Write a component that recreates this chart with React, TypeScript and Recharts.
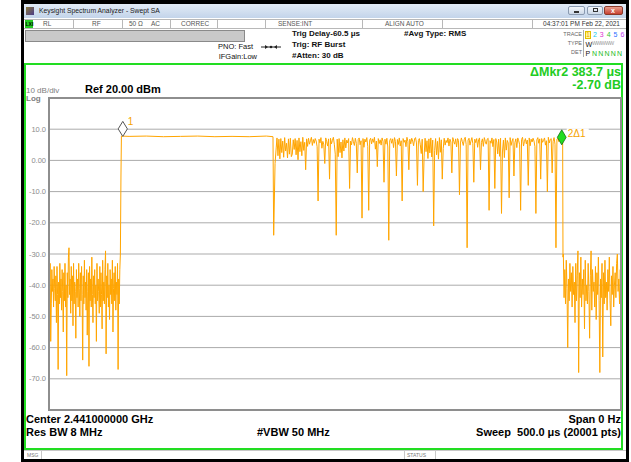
import React from 'react';
import { LineChart, Line, XAxis, YAxis, CartesianGrid, ReferenceDot } from 'recharts';

const FONT = '"Liberation Sans", Arial, Helvetica, sans-serif';

// ---- Data (time in µs, level in dBm) ----
const preNoiseStart = 0;
const preNoiseEnd = 62.4;
const preNoiseValues = [
  -36, -44, -33, -58, -46, -35, -42, -38, -47, -34,
  -41, -45, -37, -52, -34, -43, -67, -39, -46, -33,
  -44, -38, -48, -35, -42, -55, -36, -45, -33, -47,
  -40, -69, -36, -44, -31, -28, -43, -38, -49, -34,
  -45, -37, -53, -33, -46, -39, -42, -57, -35, -44,
  -38, -47, -33, -41, -50, -36, -45, -34, -43, -64,
  -37, -46, -32, -44, -39, -48, -35, -56, -42, -36,
  -66, -34, -45, -38, -47, -31, -43, -52, -37, -44,
  -35, -46, -40, -58, -33, -45, -38, -42, -49, -34,
  -47, -36, -43, -54, -32, -45, -39, -46, -35, -29,
  -62, -37, -44, -33, -47, -40, -51, -35, -43, -38,
  -46, -32, -55, -41, -36, -45, -34, -48, -39, -43,
  -33, -67, -38, -46, -35, -30,
];
const riseTimes = [62.9, 63.3];
const riseValues = [-5, 7.8];
const flatTimes = [70, 85, 100, 115, 130, 145, 160, 175, 190, 195.8];
const flatValues = [7.7, 7.8, 7.6, 7.7, 7.8, 7.6, 7.7, 7.6, 7.8, 7.6];
const dropTimes = [196.4, 197.6, 198.6];
const dropValues = [-24, -1, 4];
const burstStart = 199.3;
const burstEnd = 449;
const burstValues = [
  7.2, 1.5, 6.8, 0.5, 7, 2.5, 6.2, 1, 7.3, 3, 5.5, 0.8, 6.9, 2, 7.1, 1.2, 2, 6.6, 3.5, 7,
  1.8, 6.4, 0.2, 7.2, 2.8, 6, 1.5, 7.4, 3.2, 5.8, -3, 6.9, 4.5, 7.1, 5.2, 6.3, 7.4, 4.8, 6.7, 5.5,
  7, 6.2, 4.4, -13, 6.8, 5.6, 7.3, 3.9, 6.1, 5, -1, 7.2, 6, 4.6, 6.9, -6, 7.1, 5.3, 6.4, 7.4,
  5.2, 2, -24, 6.8, 1.2, 7, 2.5, 5.9, 0.8, 6.6, 3, 7.2, 4, 6.5, 5.6, 7, -9, 6.2, 5, 7.3,
  6, 4.8, 7.1, 5.5, -4, 6.7, 7.2, 5, 6.3, -18.5, 7, 4.2, 6.8, 5.9, 7.3, 4.5, -16, 6.5, 7.1, 5.3,
  6.9, 5.8, 7.4, 3.6, 6.2, -2, 7, 5.4, 6.6, 4.9, 7.2, 6.1, -7, 6.8, 5.2, 7.1, 4.3, -25.6, 6.4, 7,
  5.5, 6.9, 4.1, 7.3, 6, -5, 6.7, 5.1, 7.2, 4.6, 6.3, -13, 7, 5.8, 6.5, 4.4, 7.4, 6.1, -3, 6.8,
  5.3, 7.1, 6.2, 4.7, 6.9, 7.3, 5.6, -8, 6.4, 7, 5, 2.2, 6.8, -10, 1.4, 7.1, 2.8, 6.3, 0.6, 6.9,
  2.4, 7.2, 1.1, 6.5, -21, 3.2, 7, 1.8, 6.1, 0.4, 7.3, 2.6, 6.6, -6, 3.8, 7.1, 4.9, 6.4, 5.7, 7.2,
  4.6, 6.8, 5.9, -4, 7.3, 6.1, 5.2, 6.9, 4.3, 7, 6.4, -11, 5.6, 7.2, 6, 4.8, 6.7, 7.4, 5.1, -28,
  6.5, 7.1, 4.9, 6.2, 7.3, 5.4, -7, 6.8, 5.7, 7, 4.2, 6.6, 7.2, -3, 5.8, 6.9, 4.5, 7.3, 6.1, 5.2,
  6.8, 7.1, -16, 6.3, 5.5, 7.2, 4.4, 6.7, -9, 7, 5.9, 2.1, 6.8, 1.3, 7.1, -17, 2.7, 6.5, 0.9, 7.2,
  3.3, 6.4, 5.6, -12, 7.3, 4.8, 6.2, 7, -5, 5.7, 6.9, 4.1, 7.2, 6.3, 5, -16, 6.7, 7.4, 4.6, 6.1,
  7, 5.3, 6.5, -8, 7.2, 4.7, 6.8, 5.9, 7.1, 6.2, 4.4, -17, 6.6, 7.3, 5.5, 6.9, -6, 7, 5.8, 6.4,
  7.2, 4.9, 6.3, -10, 7.4, 5.6, 6.7, 7, -4, 6.1, 7.3, 5.2, -28, 6.8, 7.1, 6, 7.4, 5.8, 6.9, 7.3,
];
const fallTimes = [449.3];
const fallValues = [-31];
const postNoiseStart = 449.6;
const postNoiseEnd = 500;
const postNoiseValues = [
  -30, -44, -35, -46, -32, -41, -60, -38, -45, -33,
  -42, -36, -47, -34, -43, -39, -52, -33, -45, -37,
  -29, -68, -36, -44, -31, -47, -38, -43, -35, -54,
  -32, -45, -40, -46, -33, -42, -57, -37, -29, -48,
  -35, -42, -39, -47, -34, -51, -36, -43, -31, -45,
  -68, -38, -44, -33, -63, -36, -46, -32, -44, -39,
  -48, -35, -42, -31, -45, -53, -37, -43, -34, -47,
  -40, -36, -44, -33, -30, -42, -38, -46, -35, -50,
];

const xTicks = [0, 50, 100, 150, 200, 250, 300, 350, 400, 450, 500];
const yTicks = [20, 10, 0, -10, -20, -30, -40, -50, -60, -70, -80];
const yTickLabels: Record<string, string> = {
  '10': '10.0', '0': '0.00', '-10': '-10.0', '-20': '-20.0', '-30': '-30.0',
  '-40': '-40.0', '-50': '-50.0', '-60': '-60.0', '-70': '-70.0',
};

const marker1 = { t: 64.5, v: 7.7, label: '1' };
const marker2 = { t: 448.2, v: 5.0, label: '2\u03941' };

const spread = (start: number, end: number, vals: number[]) =>
  vals.map((v, i) => ({ t: start + ((end - start) * i) / (vals.length - 1), v }));
const pairs = (ts: number[], vs: number[]) => ts.map((t, i) => ({ t, v: vs[i] }));

const data = [
  ...spread(preNoiseStart, preNoiseEnd, preNoiseValues),
  ...pairs(riseTimes, riseValues),
  ...pairs(flatTimes, flatValues),
  ...pairs(dropTimes, dropValues),
  ...spread(burstStart, burstEnd, burstValues),
  ...pairs(fallTimes, fallValues),
  ...spread(postNoiseStart, postNoiseEnd, postNoiseValues),
];

const YTick = (props: any) => {
  const { y, payload } = props;
  const label = yTickLabels[String(payload.value)];
  if (!label) return <g />;
  return (
    <text x={46} y={y} dy="0.35em" textAnchor="end" fontSize={7.5} fill="#8c8c8c" fontFamily={FONT}>
      {label}
    </text>
  );
};

const Marker1Shape = (props: any) => {
  const { cx, cy } = props;
  const h = 7.5, w = 4.6;
  const c = cy - h;
  return (
    <g>
      <path d={`M${cx},${c - h} L${cx + w},${c} L${cx},${c + h} L${cx - w},${c} Z`} fill="#fff" stroke="#555" strokeWidth={1} />
      <text x={cx + 5} y={c - 4} fontSize={10} fill="#f5a300" fontFamily={FONT}>{marker1.label}</text>
    </g>
  );
};

const Marker2Shape = (props: any) => {
  const { cx, cy } = props;
  const h = 7.5, w = 4.4;
  const c = cy - h;
  return (
    <g>
      <rect x={cx + 5} y={c - 9} width={22} height={10} fill="#fff" />
      <path d={`M${cx},${c - h} L${cx + w},${c} L${cx},${c + h} L${cx - w},${c} Z`} fill="#22dd22" stroke="#127012" strokeWidth={0.8} />
      <text x={cx + 6} y={c - 4} dy="0.35em" fontSize={10} fill="#f5a300" fontFamily={FONT}>{marker2.label}</text>
    </g>
  );
};

const abs = (o: React.CSSProperties): React.CSSProperties => ({ position: 'absolute', ...o });
const txt = (left: number, cy: number, size: number, extra: React.CSSProperties = {}): React.CSSProperties =>
  abs({ left, top: cy - size * 0.5, fontSize: size, lineHeight: `${size}px`, whiteSpace: 'nowrap', ...extra });
const rtxt = (right: number, cy: number, size: number, extra: React.CSSProperties = {}): React.CSSProperties =>
  abs({ right: 631 - right, top: cy - size * 0.5, fontSize: size, lineHeight: `${size}px`, whiteSpace: 'nowrap', textAlign: 'right', ...extra });

const statusSeparators = [73, 122, 170, 217, 265, 362, 442, 532];
const traceColors = ['#f0a000', '#10c8f0', '#e030d0', '#30c830', '#3070ff', '#c040f0'];

export default function App() {
  return (
    <div style={abs({ left: 0, top: 0, width: 631, height: 462, background: '#fff', overflow: 'hidden', fontFamily: FONT })}>
      {/* window frame */}
      <div style={abs({ left: 21, top: 0, width: 608, height: 462, background: '#000' })} />
      <div style={abs({ left: 24, top: 4, width: 602, height: 455, background: '#fff' })} />
      {/* title bar */}
      <div style={abs({ left: 24, top: 4, width: 602, height: 14, background: 'linear-gradient(#e2ebf6, #c3d4ea)' })} />
      <div style={abs({ left: 26, top: 7, width: 8, height: 8, background: 'linear-gradient(135deg,#8a7a3a,#4a3a8a)' })} />
      <div style={txt(39, 11.5, 6.8, { color: '#1a1a1a' })}>Keysight Spectrum Analyzer - Swept SA</div>
      <div style={abs({ left: 568, top: 6, width: 17, height: 9, background: 'linear-gradient(#f4f7fb,#cdd9e8)', border: '1px solid #8a9ab0', borderRadius: 2, boxSizing: 'border-box' })} />
      <div style={abs({ left: 574, top: 11, width: 5, height: 1.5, background: '#333' })} />
      <div style={abs({ left: 587, top: 6, width: 16, height: 9, background: 'linear-gradient(#f4f7fb,#cdd9e8)', border: '1px solid #8a9ab0', borderRadius: 2, boxSizing: 'border-box' })} />
      <div style={abs({ left: 593, top: 8, width: 5, height: 4, border: '1px solid #333', boxSizing: 'border-box' })} />
      <div style={abs({ left: 604, top: 6, width: 19, height: 9, background: 'linear-gradient(#e8a090,#c84030)', border: '1px solid #8a3a2a', borderRadius: 2, boxSizing: 'border-box' })} />
      <div style={txt(611, 10.5, 7, { color: '#fff', fontWeight: 'bold' })}>x</div>
      {/* status row */}
      <div style={abs({ left: 24, top: 19, width: 602, height: 10, borderTop: '1px solid #b8b8b8', borderBottom: '1px solid #b8b8b8', boxSizing: 'border-box' })} />
      <div style={abs({ left: 25, top: 20, width: 8, height: 8, background: '#22cc22' })} />
      <div style={txt(25.5, 24, 5, { color: '#000', fontWeight: 'bold' })}>LXI</div>
      {statusSeparators.map((x) => (
        <div key={x} style={abs({ left: x, top: 19, width: 1, height: 10, background: '#b8b8b8' })} />
      ))}
      <div style={txt(43, 24, 6.5, { color: '#555' })}>RL</div>
      <div style={txt(92, 24, 6.5, { color: '#555' })}>RF</div>
      <div style={txt(129, 24, 6.5, { color: '#555' })}>50 Ω</div>
      <div style={txt(151, 24, 6.5, { color: '#555' })}>AC</div>
      <div style={txt(181, 24, 6.5, { color: '#555' })}>CORREC</div>
      <div style={txt(278, 24, 6.5, { color: '#555' })}>SENSE:INT</div>
      <div style={txt(385, 24, 6.5, { color: '#555' })}>ALIGN AUTO</div>
      <div style={rtxt(620, 24, 6.5, { color: '#333' })}>04:37:01 PM Feb 22, 2021</div>
      {/* gray bar */}
      <div style={abs({ left: 25, top: 30, width: 220, height: 12, background: '#c9c9c9', border: '1px solid #8a8a8a', boxSizing: 'border-box' })} />
      {/* settings */}
      <div style={rtxt(253, 47, 7.5, { color: '#111' })}>PNO: Fast</div>
      <div style={rtxt(257, 57, 7.5, { color: '#111' })}>IFGain:Low</div>
      <svg style={abs({ left: 260, top: 43, width: 22, height: 8 })} width={22} height={8}>
        <line x1={1} y1={4} x2={21} y2={4} stroke="#222" strokeWidth={1} />
        <path d="M8,4 L5,2 L5,6 Z" fill="#222" />
        <path d="M14,4 L17,2 L17,6 Z" fill="#222" />
        <circle cx={11} cy={4} r={1.3} fill="#222" />
      </svg>
      <div style={txt(292, 33.5, 8, { color: '#111', fontWeight: 'bold' })}>Trig Delay-60.5 μs</div>
      <div style={txt(292, 44.5, 8, { color: '#111', fontWeight: 'bold' })}>Trig: RF Burst</div>
      <div style={txt(292, 55.5, 8, { color: '#111', fontWeight: 'bold' })}>#Atten: 30 dB</div>
      <div style={txt(404, 33.5, 8, { color: '#111', fontWeight: 'bold' })}>#Avg Type: RMS</div>
      {/* trace table */}
      <div style={abs({ left: 583, top: 30, width: 1, height: 27, background: '#aaa' })} />
      <div style={rtxt(582, 34.5, 5.5, { color: '#666' })}>TRACE</div>
      <div style={rtxt(582, 44, 5.5, { color: '#666' })}>TYPE</div>
      <div style={rtxt(582, 53, 5.5, { color: '#666' })}>DET</div>
      <div style={abs({ left: 585, top: 30.5, width: 6, height: 8, background: '#fff8a0', border: '1px solid #e0c000', boxSizing: 'border-box' })} />
      {traceColors.map((c, i) => (
        <div key={i} style={txt(586 + i * 6.9, 34.5, 7, { color: c })}>{i + 1}</div>
      ))}
      <div style={txt(585.5, 44, 7, { color: '#111' })}>W</div>
      <div style={txt(592, 44, 5.2, { color: '#999', letterSpacing: -0.6 })}>WWWWW</div>
      <div style={txt(585.5, 53, 7, { color: '#111' })}>P</div>
      <div style={txt(592, 53, 7, { color: '#22bb22', letterSpacing: 1.2 })}>NNNNN</div>
      {/* main panel */}
      <div style={abs({ left: 24, top: 63, width: 599, height: 387, border: '2px solid #22dd22', boxSizing: 'border-box' })} />
      <div style={rtxt(621, 72.5, 12.5, { color: '#22cc22', fontWeight: 'bold' })}>ΔMkr2 383.7 μs</div>
      <div style={rtxt(621, 85, 12.5, { color: '#22cc22', fontWeight: 'bold' })}>-2.70 dB</div>
      <div style={txt(26, 90.5, 8, { color: '#808080' })}>10 dB/div</div>
      <div style={txt(26, 98.5, 8, { color: '#808080', fontWeight: 'bold' })}>Log</div>
      <div style={txt(85, 89.5, 11, { color: '#000', fontWeight: 'bold' })}>Ref 20.00 dBm</div>

      <div style={abs({ left: 0, top: 0 })}>
        <LineChart width={631} height={462} data={data} margin={{ top: 98, right: 10, bottom: 52, left: 0 }}>
          <CartesianGrid stroke="#ababab" strokeWidth={1} />
          <XAxis type="number" dataKey="t" domain={[0, 500]} ticks={xTicks} height={0} tick={false} axisLine={false} tickLine={false} allowDataOverflow />
          <YAxis type="number" domain={[-80, 20]} ticks={yTicks} width={49} tick={<YTick />} axisLine={false} tickLine={false} allowDataOverflow />
          <Line type="linear" dataKey="v" stroke="#ffa500" strokeWidth={1} dot={false} activeDot={false} isAnimationActive={false} />
          <ReferenceDot x={marker1.t} y={marker1.v} shape={<Marker1Shape />} />
          <ReferenceDot x={marker2.t} y={marker2.v} shape={<Marker2Shape />} />
        </LineChart>
      </div>

      {/* plot border */}
      <div style={abs({ left: 48, top: 97, width: 574, height: 314, border: '2px solid #8e8e8e', boxSizing: 'border-box', pointerEvents: 'none' })} />

      {/* footer */}
      <div style={txt(26, 419, 11, { color: '#000', fontWeight: 'bold' })}>Center 2.441000000 GHz</div>
      <div style={rtxt(621, 419, 11, { color: '#000', fontWeight: 'bold' })}>Span 0 Hz</div>
      <div style={txt(26, 432, 11, { color: '#000', fontWeight: 'bold' })}>Res BW 8 MHz</div>
      <div style={txt(257, 432, 11, { color: '#000', fontWeight: 'bold' })}>#VBW 50 MHz</div>
      <div style={rtxt(621, 432, 11, { color: '#000', fontWeight: 'bold', whiteSpace: 'pre' })}>Sweep  500.0 μs (20001 pts)</div>
      {/* bottom status bar */}
      <div style={abs({ left: 24, top: 450, width: 602, height: 9, borderTop: '1px solid #c8c8c8', boxSizing: 'border-box' })} />
      <div style={abs({ left: 41, top: 450, width: 1, height: 9, background: '#c8c8c8' })} />
      <div style={abs({ left: 404, top: 450, width: 1, height: 9, background: '#c8c8c8' })} />
      <div style={abs({ left: 435, top: 450, width: 1, height: 9, background: '#c8c8c8' })} />
      <div style={txt(27, 455, 5, { color: '#777' })}>MSG</div>
      <div style={txt(407, 455, 5, { color: '#777' })}>STATUS</div>
    </div>
  );
}
